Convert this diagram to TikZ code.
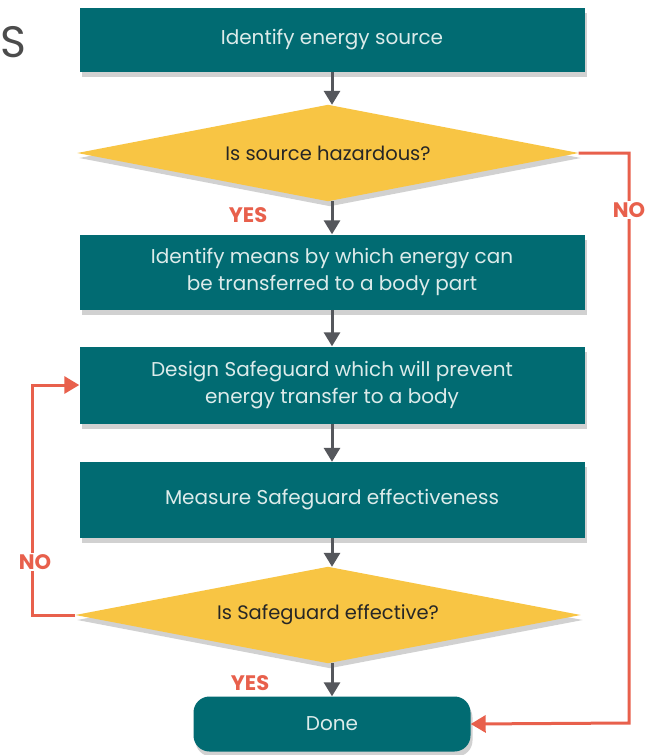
\documentclass[tikz,border=0pt]{standalone}
\usepackage{fontspec}
\setmainfont{Poppins}
\usetikzlibrary{arrows.meta,shadows,backgrounds}
\definecolor{teal}{HTML}{016B72}
\definecolor{gold}{HTML}{F8C544}
\definecolor{redl}{HTML}{E8604C}
\definecolor{grayl}{HTML}{55575C}
\definecolor{boxtext}{HTML}{DCEBEA}
\tikzset{
  x=1pt,y=-1pt,
  shade/.style={drop shadow={shadow xshift=2pt,shadow yshift=-5pt,opacity=0.18,fill=black}},
  stepbox/.style={rectangle,fill=teal,text=boxtext,minimum width=505pt,minimum height=#1,align=center,font=\fontsize{20}{27}\selectfont,shade,inner sep=0pt},
  decision/.style={rectangle,text=black!85,minimum width=#1,minimum height=96pt,inner sep=0pt,font=\fontsize{19.5}{22}\selectfont},
  flow/.style={draw=grayl,line width=3pt,-{Triangle[length=14pt,width=16pt]}},
  back/.style={draw=redl,line width=3pt,-{Triangle[length=15pt,width=17pt]}},
  lab/.style={text=redl,font=\bfseries\fontsize{21}{24}\selectfont,inner sep=1pt}
}
\begin{document}
\begin{tikzpicture}
\useasboundingbox (0,0) rectangle (653,755);
\node[text=black!70,font=\fontsize{44}{44}\selectfont,inner sep=0pt] (title) at (13,42) {S};
\node[stepbox=64pt] (b1) at (332,40) {Identify energy source};
\node[decision=501pt] (d1) at (328,153) {Is source hazardous?};
\node[stepbox=75pt] (b2) at (332,272) {Identify means by which energy can\\be transferred to a body part};
\node[stepbox=77pt] (b3) at (332,385) {Design Safeguard which will prevent\\energy transfer to a body};
\node[stepbox=76pt] (b4) at (332,500) {Measure Safeguard effectiveness};
\node[decision=505pt] (d2) at (328,615) {Is Safeguard effective?};
\node[rectangle,rounded corners=16pt,fill=teal,text=boxtext,minimum width=277pt,minimum height=55pt,inner sep=0pt,font=\fontsize{20}{24}\selectfont,shade] (done) at (332,724) {Done};
\begin{pgfonlayer}{background}
\fill[white] (0,0) rectangle (653,755);
\fill[gold,shade] (d1.west) -- (d1.north) -- (d1.east) -- (d1.south) -- cycle;
\fill[gold,shade] (d2.west) -- (d2.north) -- (d2.east) -- (d2.south) -- cycle;
\end{pgfonlayer}
\draw[flow] (b1.south) -- (b1.south |- d1.north);
\draw[flow] (d1.south -| b1.south) -- (b2.north);
\draw[flow] (b2.south) -- (b3.north);
\draw[flow] (b3.south) -- (b4.north);
\draw[flow] (b4.south) -- (b4.south |- d2.north);
\draw[flow] (d2.south -| b1.south) -- (done.north);
\coordinate (r1) at (629,153);
\coordinate (r2) at (629,723);
\draw[back] (d1.east) -- (r1) -- (r2) -- (done.east);
\coordinate (l1) at (32,615);
\coordinate (l2) at (32,385);
\draw[back] (d2.west) -- (l1) -- (l2) -- (b3.west);
\node[lab,fill=white] (no1) at (629,210) {NO};
\node[lab,fill=white] (no2) at (35,562) {NO};
\node[lab] (yes1) at (248,215) {YES};
\node[lab] (yes2) at (250,683) {YES};
\end{tikzpicture}
\end{document}
